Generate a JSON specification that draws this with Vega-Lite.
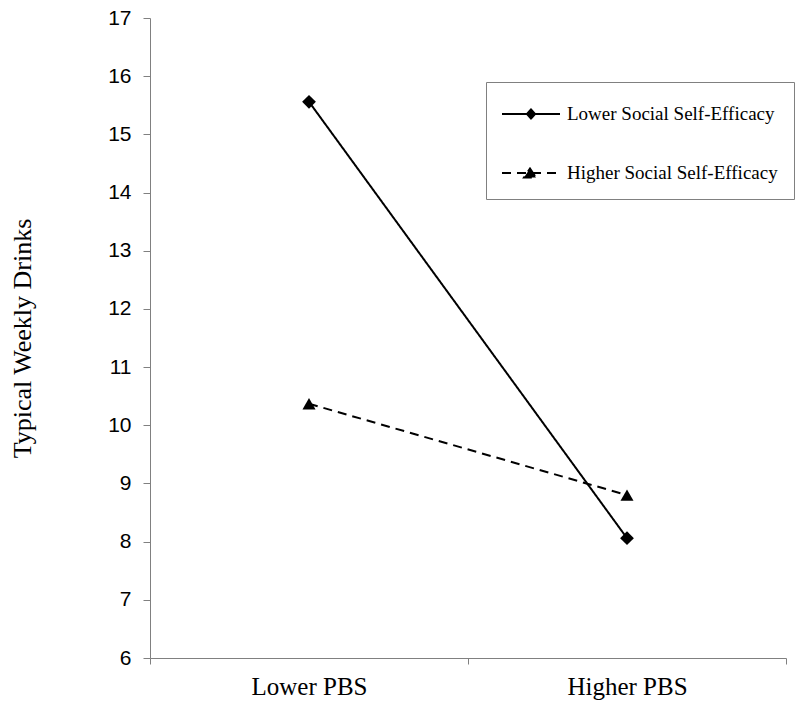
{
  "$schema": "https://vega.github.io/schema/vega-lite/v6.json",
  "width": 636,
  "height": 640,
  "autosize": "none",
  "padding": {"left": 150, "top": 18, "right": 14, "bottom": 54},
  "background": "white",
  "config": {
    "view": {"stroke": null},
    "font": "'Liberation Serif', 'Times New Roman', serif",
    "axis": {"grid": false, "domainColor": "#808080", "tickColor": "#808080", "labelColor": "black", "titleColor": "black", "labelFont": "'Liberation Serif', 'Times New Roman', serif", "titleFont": "'Liberation Serif', 'Times New Roman', serif"},
    "legend": {"labelFont": "'Liberation Serif', 'Times New Roman', serif"}
  },
  "data": {
    "values": [
      {"pbs": "Lower PBS", "series": "Lower Social Self-Efficacy", "drinks": 15.56},
      {"pbs": "Higher PBS", "series": "Lower Social Self-Efficacy", "drinks": 8.06},
      {"pbs": "Lower PBS", "series": "Higher Social Self-Efficacy", "drinks": 10.37},
      {"pbs": "Higher PBS", "series": "Higher Social Self-Efficacy", "drinks": 8.8}
    ]
  },
  "encoding": {
    "x": {
      "field": "pbs", "type": "nominal", "sort": ["Lower PBS", "Higher PBS"],
      "scale": {"type": "band", "paddingInner": 0, "paddingOuter": 0},
      "axis": {"title": null, "labelAngle": 0, "tickBand": "extent", "labelFontSize": 25, "labelPadding": 10, "tickSize": 6}
    },
    "y": {
      "field": "drinks", "type": "quantitative",
      "scale": {"domain": [6, 17], "nice": false, "zero": false},
      "axis": {"title": "Typical Weekly Drinks", "values": [6, 7, 8, 9, 10, 11, 12, 13, 14, 15, 16, 17], "labelFont": "'Liberation Sans', Arial, sans-serif", "labelFontSize": 21, "titleFontSize": 26, "titleFontWeight": "normal", "titlePadding": 72, "tickSize": 7, "labelPadding": 12}
    }
  },
  "layer": [
    {
      "mark": {"type": "line", "stroke": "black", "strokeWidth": 2},
      "encoding": {
        "strokeDash": {
          "field": "series", "type": "nominal",
          "scale": {"domain": ["Lower Social Self-Efficacy", "Higher Social Self-Efficacy"], "range": [[1, 0], [9, 6]]},
          "legend": {
            "title": null, "orient": "none", "legendX": 336, "legendY": 64,
            "strokeColor": "#808080", "fillColor": "white", "padding": 16,
            "symbolSize": 900, "symbolStrokeWidth": 2, "symbolStrokeColor": "black",
            "labelFontSize": 19, "labelColor": "black", "labelLimit": 400,
            "labelOffset": 33, "rowPadding": 33,
            "encode": {
              "symbols": {
                "update": {
                  "shape": {"signal": "datum.value === 'Lower Social Self-Efficacy' ? 'M-1.067,0H2.8M0.6,0L0.867,-0.3L1.133,0L0.867,0.3Z' : 'M-1.067,0H2.8M0.8,-0.3L1.2,0.3L0.4,0.3Z'"},
                  "fill": {"value": "black"},
                  "stroke": {"value": "black"},
                  "opacity": {"value": 1}
                }
              }
            }
          }
        }
      }
    },
    {
      "transform": [{"filter": "datum.series === 'Lower Social Self-Efficacy'"}],
      "mark": {"type": "point", "filled": true, "color": "black", "opacity": 1, "size": 190, "shape": "diamond"}
    },
    {
      "transform": [{"filter": "datum.series === 'Higher Social Self-Efficacy'"}],
      "mark": {"type": "point", "filled": true, "color": "black", "opacity": 1, "size": 170, "shape": "triangle-up"}
    }
  ]
}
